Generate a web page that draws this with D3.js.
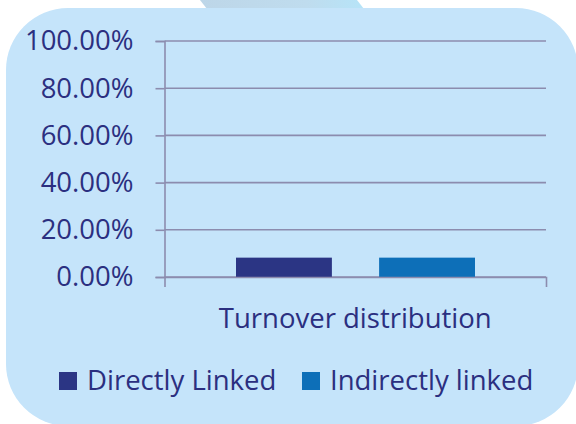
<!DOCTYPE html>
<html>
<head>
<meta charset="utf-8">
<script src="https://cdn.jsdelivr.net/npm/d3@7"></script>
<style>
  html, body { margin: 0; padding: 0; background: #fff; }
  svg { display: block; }
</style>
</head>
<body>
<div id="chart"></div>
<script>
// Data
const categories = ["Turnover distribution"];
const seriesNames = ["Directly Linked", "Indirectly linked"];
const seriesValues = [[0.082], [0.082]]; // per series, per category
const yTicks = [0, 0.2, 0.4, 0.6, 0.8, 1.0];
const seriesColors = ["#2B3584", "#0D6FB8"];

const width = 576;
const height = 424;
const margin = { top: 41, right: 30, bottom: 147, left: 164.5 };
const textColor = "#2B2F80";
const gridColor = "#8C8CAE";
const font = "'Open Sans', Lato, sans-serif";
const fontSize = "27.5px";

const svg = d3.select("#chart")
  .append("svg")
  .attr("width", width)
  .attr("height", height);

// faint decoration peeking above the panel
const grad = svg.append("defs").append("linearGradient")
  .attr("id", "deco")
  .attr("x1", "0").attr("x2", "1");
grad.append("stop").attr("offset", "0").attr("stop-color", "#BDD6E8");
grad.append("stop").attr("offset", "0.65").attr("stop-color", "#BFDCEE");
grad.append("stop").attr("offset", "1").attr("stop-color", "#B6E4F8");
svg.append("path")
  .attr("d", "M200,0 L357,0 L364,9 L207,9 Z")
  .attr("fill", "url(#deco)");

// Rounded panel background
svg.append("rect")
  .attr("x", 6)
  .attr("y", 8)
  .attr("width", 572)
  .attr("height", 418)
  .attr("rx", 62)
  .attr("fill", "#C5E4FA");

// Scales
const x0 = d3.scaleBand()
  .domain(categories)
  .range([margin.left, width - margin.right]);

const x1 = d3.scaleBand()
  .domain(seriesNames)
  .range([71.5, x0.bandwidth() - 71])
  .paddingInner(0.33);

const y = d3.scaleLinear()
  .domain([0, 1])
  .range([height - margin.bottom, margin.top]);

// Gridlines
svg.append("g")
  .selectAll("line")
  .data(yTicks)
  .join("line")
  .attr("x1", margin.left)
  .attr("x2", width - margin.right)
  .attr("y1", d => y(d))
  .attr("y2", d => y(d))
  .attr("stroke", gridColor)
  .attr("stroke-width", 1.6);

// Bars
seriesNames.forEach((s, i) => {
  svg.append("g")
    .selectAll("rect")
    .data(categories)
    .join("rect")
    .attr("x", c => x0(c) + x1(s))
    .attr("y", (c, j) => y(seriesValues[i][j]))
    .attr("width", x1.bandwidth())
    .attr("height", (c, j) => y(0) - y(seriesValues[i][j]))
    .attr("fill", seriesColors[i]);
});

// Y axis
const yAxis = svg.append("g")
  .attr("transform", `translate(${margin.left},0)`)
  .call(d3.axisLeft(y)
    .tickValues(yTicks)
    .tickFormat(d3.format(".2%"))
    .tickSize(9)
    .tickPadding(22));

// X axis
const xAxis = svg.append("g")
  .attr("transform", `translate(0,${y(0)})`)
  .call(d3.axisBottom(x0)
    .tickSizeInner(0)
    .tickSizeOuter(10)
    .tickPadding(31));

[yAxis, xAxis].forEach(g => {
  g.selectAll("path, line")
    .attr("stroke", gridColor)
    .attr("stroke-width", 1.6);
  g.selectAll("text")
    .attr("fill", textColor)
    .style("font-family", font)
    .style("font-size", fontSize);
});

// Legend
const legendX = [59, 302];
const legend = svg.append("g")
  .selectAll("g")
  .data(seriesNames)
  .join("g")
  .attr("transform", (d, i) => `translate(${legendX[i]},372)`);

legend.append("rect")
  .attr("width", 18)
  .attr("height", 18)
  .attr("fill", (d, i) => seriesColors[i]);

legend.append("text")
  .attr("x", 28)
  .attr("y", 18)
  .attr("fill", textColor)
  .style("font-family", font)
  .style("font-size", fontSize)
  .text(d => d);
</script>
</body>
</html>
